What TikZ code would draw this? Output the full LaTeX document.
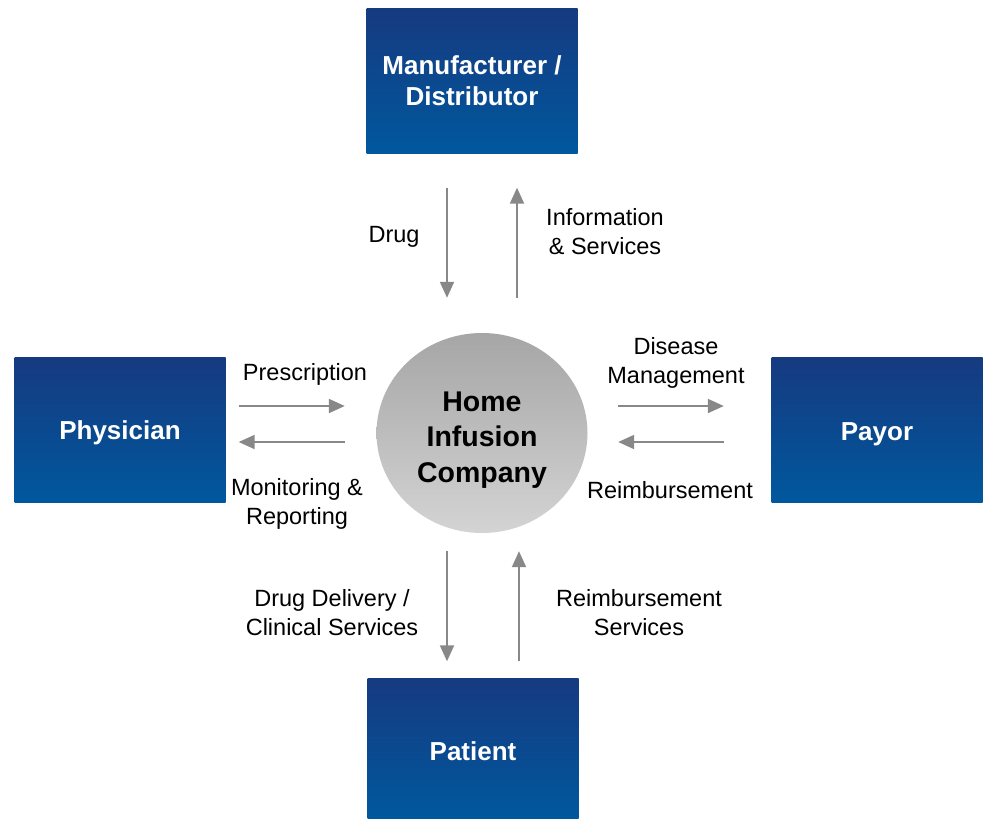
\documentclass[tikz,border=0pt]{standalone}
\usepackage{fontspec}
\setmainfont{Liberation Sans}
\usetikzlibrary{arrows.meta,shapes.geometric}
\definecolor{boxtop}{HTML}{163A80}
\definecolor{boxbot}{HTML}{00589E}
\definecolor{flowgray}{HTML}{888888}
\begin{document}
\begin{tikzpicture}[x=1pt,y=-1pt,
  party/.style={rectangle,top color=boxtop,bottom color=boxbot,text=white,
    font=\fontsize{26}{31}\selectfont\bfseries,align=center,
    minimum width=211pt,minimum height=145pt,inner sep=0pt},
  flow/.style={draw=flowgray,line width=2pt,-{Triangle[length=16pt,width=14pt]}},
  lbl/.style={font=\fontsize{23.5}{29}\selectfont,align=center,yshift=-3pt}]
\useasboundingbox (0,0) rectangle (988,819);
% the four parties
\node[party] (mfr) at (472,81) {Manufacturer /\\Distributor};
\node[party,text depth=0pt] (phy) at (120,430) {Physician};
\node[party,text height=20.6pt,text depth=0pt] (pay) at (877,430) {Payor};
\node[party,minimum height=140pt,text height=25pt,text depth=0pt] (pat) at (473,748) {Patient};
% the company in the middle
\node[ellipse,top color=black!35,bottom color=black!17,minimum width=211pt,
  minimum height=200pt,inner sep=0pt,align=center,text height=98pt,text depth=0pt,
  font=\fontsize{28.5}{35.5}\selectfont\bfseries] (hic) at (482,433) {Home\\Infusion\\Company};
% flows
\draw[flow] ([xshift=-25pt,yshift=-34pt]mfr.south) -- ([xshift=-35pt,yshift=35pt]hic.north);
\draw[flow] ([xshift=35pt,yshift=35pt]hic.north) -- ([xshift=45pt,yshift=-34pt]mfr.south);
\draw[flow] ([xshift=13pt,yshift=24pt]phy.east) -- ([xshift=-31.5pt,yshift=27pt]hic.west);
\draw[flow] ([xshift=-31.5pt,yshift=-9pt]hic.west) -- ([xshift=13pt,yshift=-12pt]phy.east);
\draw[flow] ([xshift=30.5pt,yshift=27pt]hic.east) -- ([xshift=-47.5pt,yshift=24pt]pay.west);
\draw[flow] ([xshift=-47.5pt,yshift=-12pt]pay.west) -- ([xshift=30.5pt,yshift=-9pt]hic.east);
\draw[flow] ([xshift=-35pt,yshift=-18pt]hic.south) -- ([xshift=-26pt,yshift=16.5pt]pat.north);
\draw[flow] ([xshift=46pt,yshift=16.5pt]pat.north) -- ([xshift=37pt,yshift=-18pt]hic.south);
% flow labels
\node[lbl] (drug) at (394,234) {Drug};
\node[lbl] (info) at (605,229) {Information\\\& Services};
\node[lbl] (rx) at (305,371) {Prescription};
\node[lbl] (mon) at (297,501) {Monitoring \&\\Reporting};
\node[lbl] (dis) at (676,360) {Disease\\Management};
\node[lbl] (reimb) at (670,487) {Reimbursement};
\node[lbl] (deliv) at (332,610) {Drug Delivery /\\Clinical Services};
\node[lbl] (rsvc) at (639,610) {Reimbursement\\Services};
\end{tikzpicture}
\end{document}
